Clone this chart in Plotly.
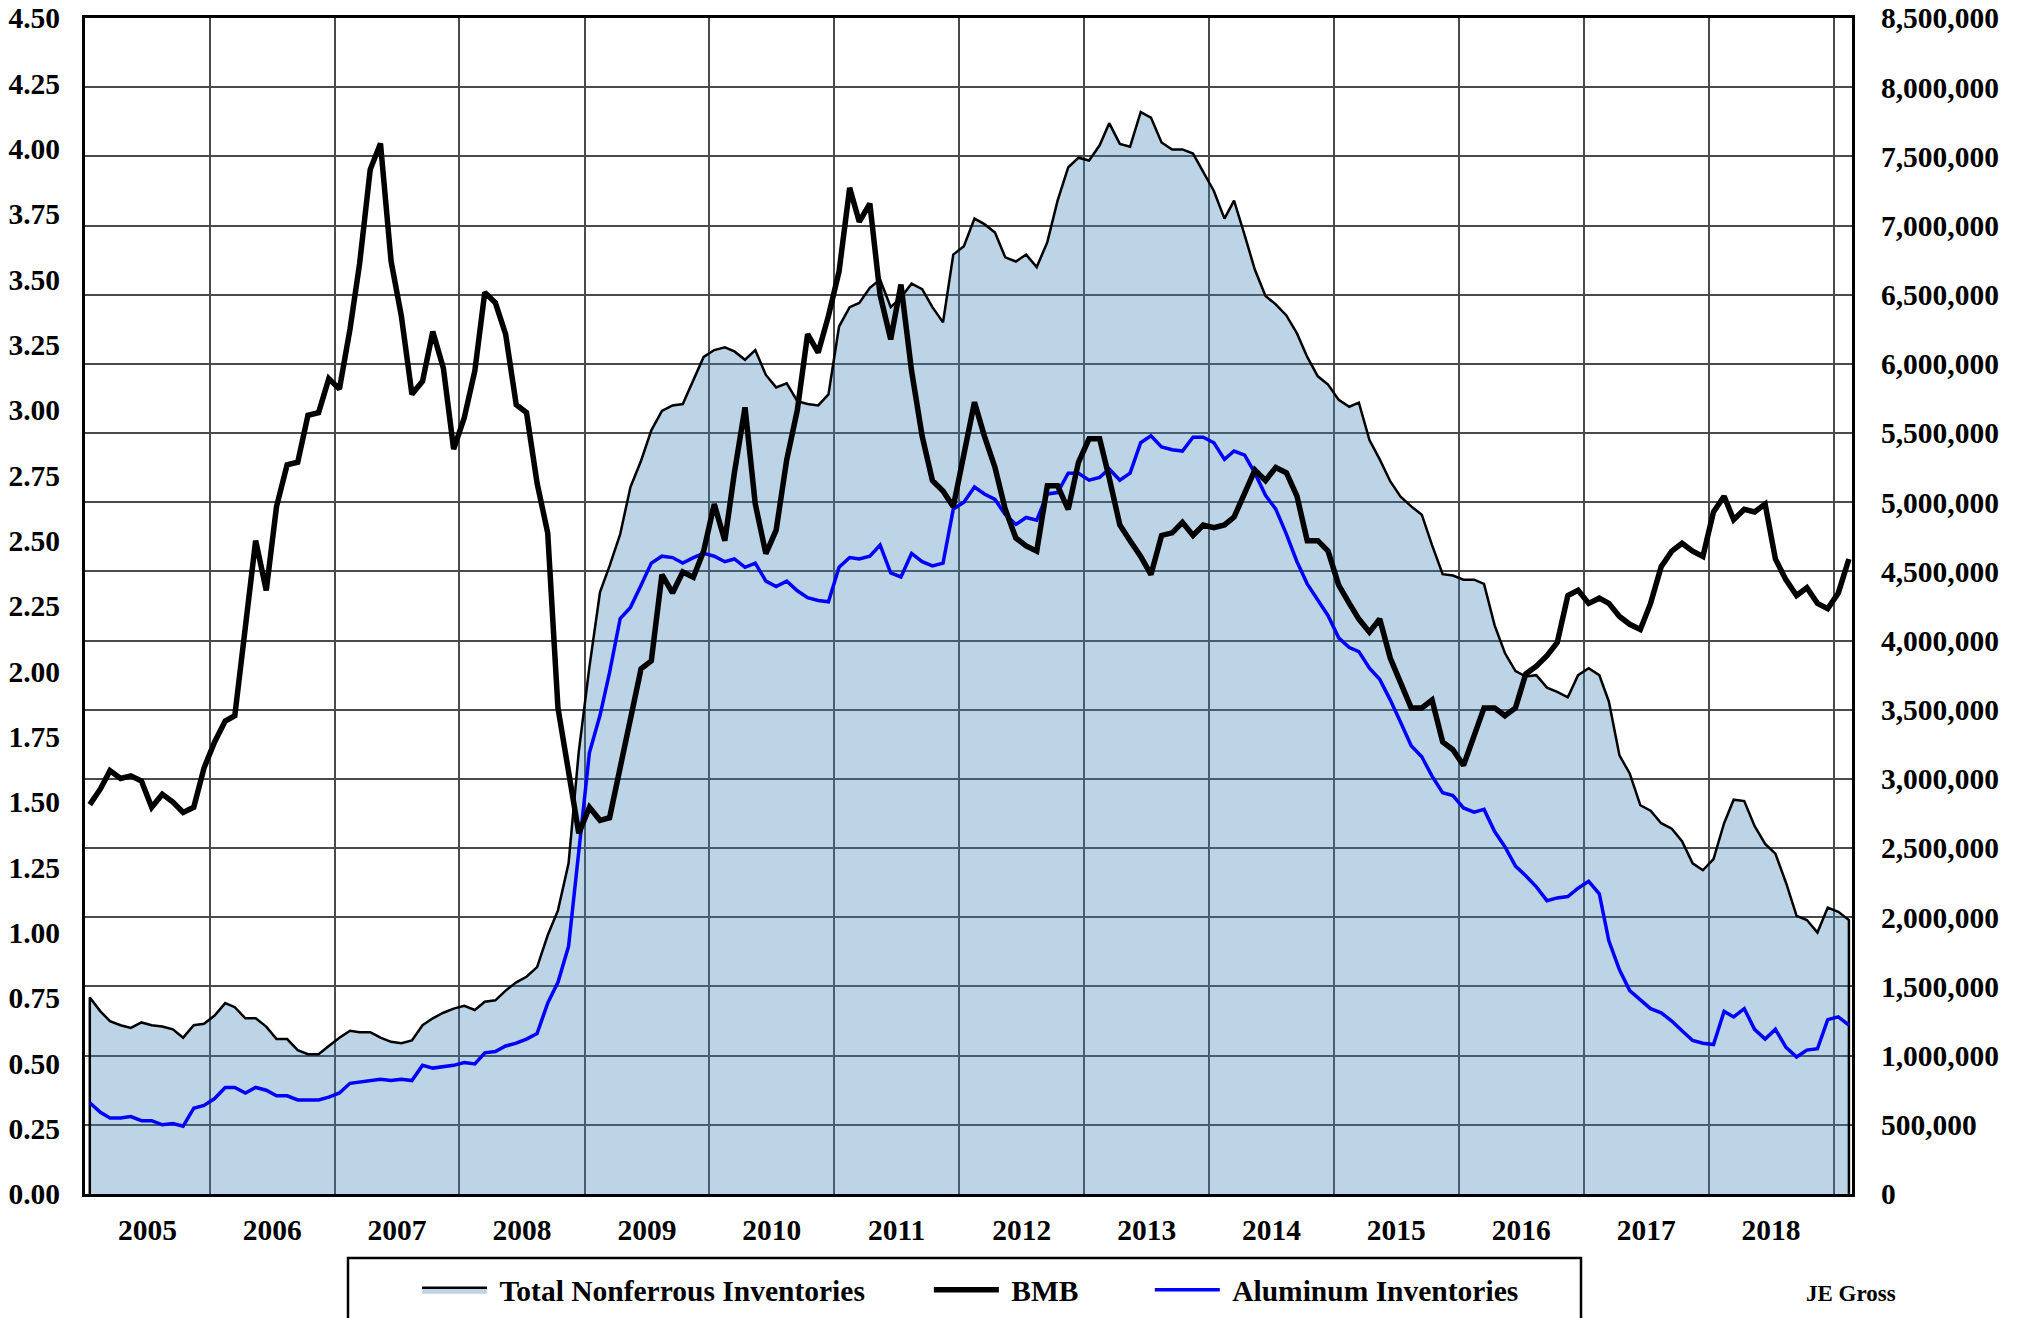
import pandas as pd
import plotly.graph_objects as go

# Monthly observations, Jan 2005 - Feb 2019 (plotted mid-month)
months = [d.strftime("%Y-%m-15") for d in pd.date_range("2005-01-01", periods=170, freq="MS")]

# BMB (left axis)
bmb = [
    1.49, 1.55, 1.62, 1.59, 1.60, 1.58, 1.48, 1.53, 1.50, 1.46, 1.48, 1.63,
    1.73, 1.81, 1.83, 2.17, 2.50, 2.31, 2.63, 2.79, 2.80, 2.98, 2.99, 3.12,
    3.08, 3.31, 3.56, 3.92, 4.02, 3.57, 3.36, 3.06, 3.11, 3.30, 3.16, 2.85,
    2.97, 3.15, 3.45, 3.41, 3.29, 3.02, 2.99, 2.72, 2.53, 1.86, 1.63, 1.38,
    1.48, 1.43, 1.44, 1.63, 1.81, 2.01, 2.04, 2.37, 2.30, 2.38, 2.36, 2.46,
    2.64, 2.50, 2.76, 3.01, 2.64, 2.45, 2.54, 2.81, 3.00, 3.29, 3.22, 3.36,
    3.53, 3.85, 3.72, 3.79, 3.44, 3.27, 3.48, 3.15, 2.90, 2.73, 2.69, 2.63,
    2.83, 3.03, 2.90, 2.78, 2.62, 2.51, 2.48, 2.46, 2.71, 2.71, 2.62, 2.80,
    2.89, 2.89, 2.74, 2.56, 2.50, 2.44, 2.37, 2.52, 2.53, 2.57, 2.52, 2.56,
    2.55, 2.56, 2.59, 2.68, 2.77, 2.73, 2.78, 2.76, 2.67, 2.50, 2.50, 2.46,
    2.33, 2.26, 2.20, 2.15, 2.20, 2.05, 1.96, 1.86, 1.86, 1.89, 1.73, 1.70,
    1.64, 1.75, 1.86, 1.86, 1.83, 1.86, 1.99, 2.02, 2.06, 2.11, 2.29, 2.31,
    2.26, 2.28, 2.26, 2.21, 2.18, 2.16, 2.26, 2.40, 2.46, 2.49, 2.46, 2.44,
    2.61, 2.67, 2.58, 2.62, 2.61, 2.64, 2.43, 2.35, 2.29, 2.32, 2.26, 2.24,
    2.30, 2.43,
]

# Total nonferrous inventories, thousand tonnes (right axis)
total_kt = [
    1420, 1320, 1250, 1220, 1200, 1240, 1220, 1210, 1190, 1130, 1220, 1230,
    1290, 1380, 1350, 1270, 1270, 1210, 1120, 1120, 1040, 1010, 1010, 1070,
    1130, 1180, 1170, 1170, 1130, 1100, 1090, 1110, 1220, 1270, 1310, 1340,
    1360, 1330, 1390, 1400, 1470, 1530, 1570, 1640, 1870, 2050, 2390, 3200,
    3810, 4350, 4540, 4770, 5110, 5300, 5520, 5660, 5700, 5710, 5880, 6050,
    6100, 6120, 6090, 6030, 6100, 5920, 5830, 5860, 5730, 5710, 5700, 5780,
    6270, 6410, 6440, 6550, 6610, 6410, 6480, 6580, 6540, 6410, 6300, 6790,
    6850, 7050, 7010, 6950, 6770, 6740, 6790, 6700, 6880, 7180, 7420, 7490,
    7470, 7580, 7740, 7590, 7570, 7820, 7780, 7600, 7550, 7550, 7520, 7390,
    7250, 7050, 7180, 6930, 6680, 6490, 6430, 6350, 6220, 6050, 5910, 5850,
    5740, 5690, 5720, 5450, 5310, 5150, 5040, 4970, 4910, 4690, 4480, 4470,
    4440, 4440, 4410, 4110, 3910, 3780, 3740, 3750, 3660, 3630, 3590, 3750,
    3800, 3750, 3560, 3170, 3040, 2810, 2770, 2680, 2640, 2550, 2390, 2340,
    2420, 2680, 2850, 2840, 2660, 2530, 2460, 2250, 2010, 1980, 1890, 2070,
    2040, 1980,
]

# Aluminum inventories, thousand tonnes (right axis)
aluminum_kt = [
    660, 590, 550, 550, 560, 530, 530, 500, 510, 490, 620, 640,
    690, 770, 770, 730, 770, 750, 710, 710, 680, 680, 680, 700,
    730, 800, 810, 820, 830, 820, 830, 820, 930, 910, 920, 930,
    950, 940, 1020, 1030, 1070, 1090, 1120, 1160, 1380, 1530, 1790, 2470,
    3190, 3460, 3770, 4160, 4240, 4400, 4560, 4610, 4600, 4560, 4600, 4630,
    4610, 4570, 4590, 4530, 4560, 4430, 4390, 4430, 4360, 4310, 4290, 4280,
    4530, 4600, 4590, 4610, 4690, 4490, 4460, 4630, 4570, 4540, 4560, 4950,
    5000, 5110, 5060, 5020, 4910, 4840, 4890, 4870, 5060, 5070, 5210, 5210,
    5160, 5180, 5240, 5160, 5210, 5430, 5480, 5400, 5380, 5370, 5470, 5470,
    5430, 5310, 5370, 5340, 5210, 5050, 4950, 4770, 4570, 4410, 4290, 4180,
    4020, 3950, 3920, 3800, 3720, 3570, 3410, 3240, 3160, 3020, 2900, 2880,
    2790, 2760, 2780, 2620, 2510, 2370, 2300, 2220, 2120, 2140, 2150, 2210,
    2260, 2170, 1830, 1620, 1470, 1400, 1340, 1310, 1250, 1180, 1110, 1090,
    1080, 1320, 1280, 1340, 1190, 1120, 1190, 1060, 990, 1040, 1050, 1260,
    1280, 1220,
]

total = [v * 1000 for v in total_kt]
aluminum = [v * 1000 for v in aluminum_kt]

FONT = "Liberation Serif, Times New Roman, serif"
GRID = "#4a4a4a"
FS = 29.5
NB = "\u00a0"

fig = go.Figure()

# closed outline of the area (down to zero at both ends)
fig.add_trace(go.Scatter(
    x=[months[0]] + months + [months[-1]],
    y=[0] + total + [0],
    mode="lines", fill="toself",
    fillcolor="rgba(66,129,184,0.35)",
    line=dict(color="black", width=2.5),
    name=NB + "Total Nonferrous Inventories" + NB * 8,
    legendrank=1, yaxis="y", hoverinfo="skip",
))
fig.add_trace(go.Scatter(
    x=months, y=aluminum, mode="lines",
    line=dict(color="#0000ff", width=3.5),
    name=NB + "Aluminum Inventories", legendrank=3, yaxis="y",
))
fig.add_trace(go.Scatter(
    x=months, y=bmb, mode="lines",
    line=dict(color="black", width=5.5),
    name=NB + "BMB" + NB * 9, legendrank=2, yaxis="y2",
))

# The page body has an 8px margin, so the figure is drawn 8px smaller
# and all window positions below are given in window pixels.
OFF = 8
W, H = 2021 - OFF, 1318 - OFF
L, T = 85 - OFF, 18 - OFF
pw, ph = 1767, 1176
R, B = W - L - pw, H - T - ph

def px(xw):
    return (xw - OFF - L) / pw

def py(yw):
    return (H - B - (yw - OFF)) / ph

tickfont = dict(family=FONT, size=FS, color="black", weight="bold")

fig.update_layout(
    width=W, height=H,
    margin=dict(l=L, r=R, t=T, b=B, autoexpand=False),
    paper_bgcolor="white", plot_bgcolor="white",
    font=dict(family=FONT, size=FS, color="black", weight="bold"),
    showlegend=True,
    legend=dict(
        orientation="h", x=px(417), y=py(1264), xanchor="left", yanchor="top",
        bgcolor="rgba(0,0,0,0)", borderwidth=0,
        font=dict(family=FONT, size=FS, color="black", weight="bold"),
        itemwidth=65, traceorder="normal",
    ),
    xaxis=dict(
        type="date", range=["2005-01-01", "2019-02-24"],
        dtick="M12", tick0="2005-01-01", tickformat="%Y",
        ticklabelmode="period", ticks="", automargin=False,
        ticklabeloverflow="allow",
        showgrid=True, gridcolor=GRID, gridwidth=1.5,
        showline=True, mirror=True, linecolor="black", linewidth=3,
        zeroline=False, ticklabelstandoff=8,
        tickfont=tickfont,
    ),
    yaxis=dict(
        range=[0, 8500000], dtick=500000, tick0=0, tickformat=",d",
        side="right", ticks="", automargin=False,
        ticklabeloverflow="allow",
        showgrid=True, gridcolor=GRID, gridwidth=1.5,
        showline=True, mirror=True, linecolor="black", linewidth=3,
        zeroline=False, ticklabelstandoff=20,
        tickfont=tickfont,
    ),
    yaxis2=dict(
        range=[0, 4.5], dtick=0.25, tick0=0, tickformat=".2f",
        side="left", overlaying="y", ticks="", automargin=False,
        ticklabeloverflow="allow",
        showgrid=False, zeroline=False, showline=False,
        ticklabelstandoff=24,
        tickfont=tickfont,
    ),
    shapes=[dict(
        type="rect", xref="paper", yref="paper",
        x0=px(348), x1=px(1581), y0=py(1258), y1=py(1340),
        line=dict(color="black", width=2.5), fillcolor="rgba(0,0,0,0)",
    )],
    annotations=[dict(
        text="JE Gross", xref="paper", yref="paper",
        x=px(1851), y=py(1293), xanchor="center", yanchor="middle",
        showarrow=False,
        font=dict(family=FONT, size=23, color="black", weight="bold"),
    )],
)

fig.write_html("out.html")
